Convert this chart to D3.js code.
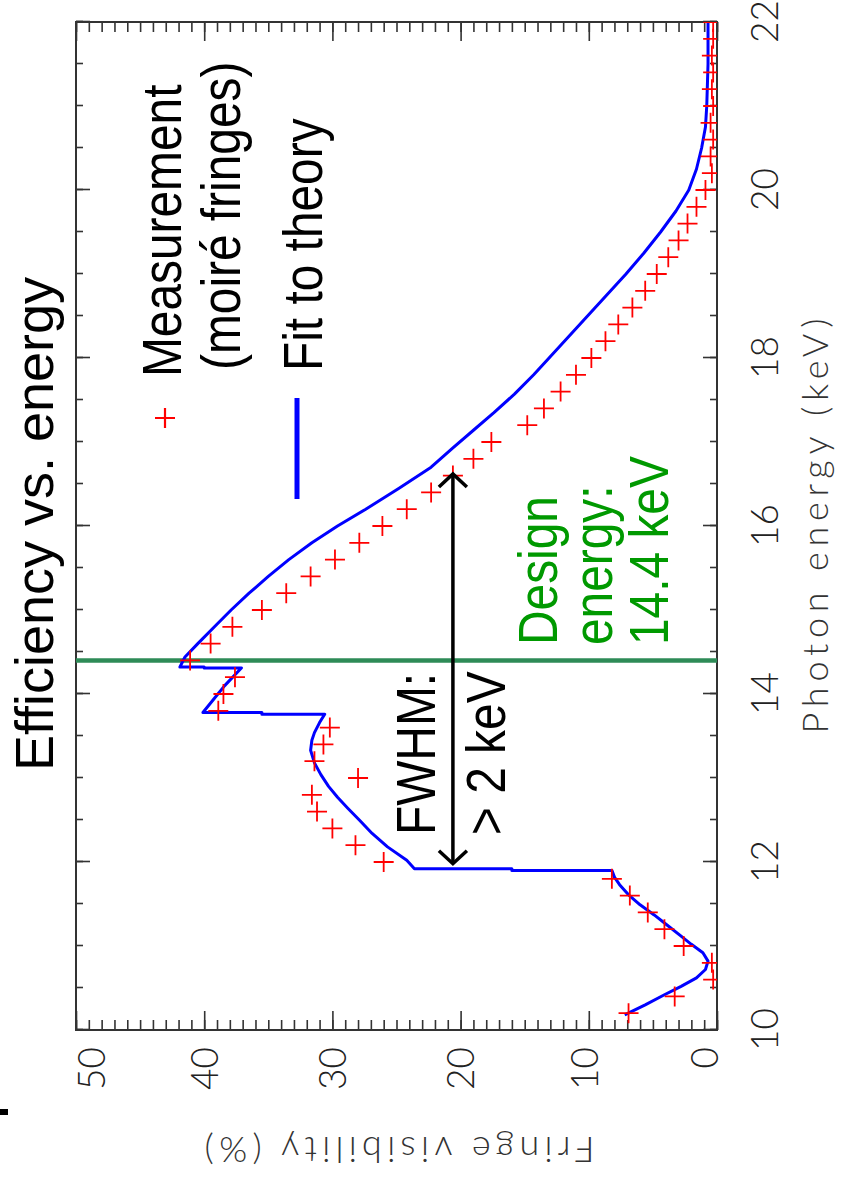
<!DOCTYPE html>
<html><head><meta charset="utf-8">
<script src="https://cdn.jsdelivr.net/npm/d3@7"></script>
<style>html,body{margin:0;padding:0;background:#fff;} svg{display:block;}</style>
</head><body>
<svg id="chart" width="843" height="1179"></svg>
<script>
// ---- data ----
const measEnergy = [10.2,10.4,10.6,10.8,11.0,11.2,11.4,11.6,11.8,12.0,12.2,12.4,12.6,12.8,13.0,13.2,13.4,13.6,13.8,14.0,14.2,14.4,14.6,14.8,15.0,15.2,15.4,15.6,15.8,16.0,16.2,16.4,16.6,16.8,17.0,17.2,17.4,17.6,17.8,18.0,18.2,18.4,18.6,18.8,19.0,19.2,19.4,19.6,19.8,20.0,20.2,20.4,20.6,20.8,21.0,21.2,21.4,21.6,21.8,22.0];
const measVis    = [6.9,3.3,0.3,0.4,2.6,4.1,5.4,6.8,8.2,26.0,28.2,30.0,31.2,31.6,28.0,31.4,30.7,30.2,38.9,38.5,37.6,41.1,39.5,37.8,35.5,33.6,31.7,29.8,27.9,26.1,24.2,22.3,20.6,19.0,17.6,14.8,13.5,12.2,11.0,9.8,8.7,7.7,6.6,5.6,4.7,3.8,3.0,2.3,1.6,0.9,0.4,0.5,0.3,0.5,0.3,0.4,0.3,0.4,0.3,0.3];
const fitEnergy = [10.18,10.3,10.42,10.52,10.62,10.72,10.82,10.92,11.02,11.13,11.25,11.37,11.49,11.61,11.73,11.82,11.9,11.9,11.92,11.92,12.02,12.18,12.34,12.5,12.64,12.77,12.9,13.04,13.18,13.33,13.45,13.54,13.66,13.76,13.76,13.78,13.78,13.95,14.1,14.31,14.31,14.32,14.32,14.44,14.6,14.8,15.0,15.2,15.4,15.6,15.8,16.0,16.2,16.45,16.7,16.93,17.14,17.35,17.57,17.8,18.0,18.25,18.5,18.75,19.0,19.25,19.5,19.75,20.0,20.25,20.5,20.75,21.0,21.5,22.0];
const fitVis    = [7.2,5.6,4.1,2.8,1.6,0.9,0.7,1.1,2.0,2.9,3.9,4.9,6.0,6.9,7.6,8.0,8.2,16.0,16.0,23.6,24.2,25.7,26.9,27.9,28.8,29.6,30.3,30.9,31.4,31.7,31.6,31.4,31.0,30.6,35.5,35.5,40.1,39.2,38.4,37.1,40.0,40.0,41.9,41.5,40.5,39.2,37.9,36.5,35.0,33.4,31.6,29.6,27.4,24.8,22.3,20.6,19.0,17.4,15.8,14.3,13.1,11.6,10.1,8.6,7.1,5.7,4.4,3.2,2.2,1.6,1.2,0.9,0.8,0.7,0.7];
const energyTickLabels = [10,12,14,16,18,20,22];
const energyMinorTicks = [10,10.5,11,11.5,12,12.5,13,13.5,14,14.5,15,15.5,16,16.5,17,17.5,18,18.5,19,19.5,20,20.5,21,21.5,22];
const visTickLabels = [0,10,20,30,40,50];
const designEnergy = 14.4;
const fwhmRange = [11.98, 16.62];
const fwhmLevel = 20.6;
const titleText = "Efficiency vs. energy";
const xTitle = "Photon energy (keV)";
const yTitle = "Fringe visibility (%)";
const legendLabels = ["Measurement", "(moiré fringes)", "Fit to theory"];
const fwhmLines = ["FWHM:", "> 2 keV"];
const designLines = ["Design", "energy:", "14.4 keV"];

// ---- layout ----
const W = 1008, H = 641;
const x = d3.scaleLinear().domain([10, 22]).range([0, W]);
const y = d3.scaleLinear().domain([0, 50]).range([H, 0]);

const svg = d3.select('#chart');
svg.append('rect').attr('x',0).attr('y',1109).attr('width',8).attr('height',6).attr('fill','#000');

// chart is drawn upright then rotated -90deg
const g = svg.append('g').attr('transform', 'translate(76,1030) rotate(-90)');

const defs = svg.append('defs');
defs.append('clipPath').attr('id','plotclip').append('rect').attr('x',0).attr('y',0).attr('width',W).attr('height',H);

const tickFont = "Lato, 'DejaVu Sans', sans-serif";
function styleAxis(sel){
  sel.select('.domain').remove();
  sel.selectAll('line').attr('stroke','#333').attr('stroke-width',1.6);
}
// energy axis (bottom -> screen right), minor + major, mirrored on top
g.append('g').attr('transform',`translate(0,${H})`)
  .call(d3.axisBottom(x).tickValues(energyMinorTicks).tickSize(-7).tickFormat(''))
  .call(styleAxis);
g.append('g').call(d3.axisTop(x).tickValues(energyMinorTicks).tickSize(-7).tickFormat('')).call(styleAxis);
const xMaj = g.append('g').attr('transform',`translate(0,${H})`)
  .call(d3.axisBottom(x).tickValues(energyTickLabels).tickSize(-14).tickFormat(d3.format('d')))
  .call(styleAxis);
xMaj.selectAll('text').attr('y',48).attr('dy','0.36em')
  .attr('font-family',tickFont).attr('font-weight',300).attr('font-size',37).attr('fill','#222');
g.append('g').call(d3.axisTop(x).tickValues(energyTickLabels).tickSize(-14).tickFormat('')).call(styleAxis);

// visibility axis (left -> screen bottom), minor + major, mirrored on right
g.append('g').call(d3.axisLeft(y).tickValues(d3.range(0, 51, 1)).tickSize(-10).tickFormat('')).call(styleAxis);
g.append('g').attr('transform',`translate(${W},0)`)
  .call(d3.axisRight(y).tickValues(d3.range(0, 51, 1)).tickSize(-10).tickFormat('')).call(styleAxis);
const yMaj = g.append('g')
  .call(d3.axisLeft(y).tickValues(visTickLabels).tickSize(-19).tickPadding(17).tickFormat(d3.format('d')))
  .call(styleAxis);
yMaj.selectAll('text').attr('dy','0.36em')
  .attr('font-family',tickFont).attr('font-weight',300).attr('font-size',37).attr('fill','#222')
  .attr('transform', d => d === 50 ? 'translate(0,15)' : d === 0 ? 'translate(0,-13)' : d === 10 ? 'translate(0,-5)' : null);
g.append('g').attr('transform',`translate(${W},0)`)
  .call(d3.axisRight(y).tickValues(visTickLabels).tickSize(-19).tickFormat('')).call(styleAxis);

// frame
g.append('rect').attr('x',0).attr('y',0).attr('width',W).attr('height',H)
  .attr('fill','none').attr('stroke','#333').attr('stroke-width',2);

// axis titles
g.append('text').attr('x', W/2).attr('y', H + 98).attr('dy','0.36em')
  .attr('text-anchor','middle').attr('font-family',tickFont).attr('font-weight',300)
  .attr('font-size',36).attr('fill','#333').attr('textLength',415).attr('lengthAdjust','spacing')
  .text(xTitle);
g.append('text').attr('x', -120).attr('y', H/2 + 3).attr('dy','0.36em')
  .attr('text-anchor','middle').attr('font-family',tickFont).attr('font-weight',300)
  .attr('font-size',36).attr('fill','#333').attr('textLength',390).attr('lengthAdjust','spacing')
  .attr('transform', `rotate(-90,-120,${H/2+3})`)
  .text(yTitle);

// plot contents
const plot = g.append('g').attr('clip-path','url(#plotclip)');

// design energy line
plot.append('line').attr('x1', x(designEnergy)).attr('x2', x(designEnergy))
  .attr('y1', 0).attr('y2', H).attr('stroke','#2e8b57').attr('stroke-width',4.5);

const fitData = fitEnergy.map((e,i) => [e, fitVis[i]]);
plot.append('path').datum(fitData)
  .attr('d', d3.line().x(d => x(d[0])).y(d => y(d[1])))
  .attr('fill','none').attr('stroke','#0000ff').attr('stroke-width',3).attr('stroke-linejoin','round');

const plusType = { draw(ctx, size){ const r = Math.sqrt(size)/2; ctx.moveTo(-r,0); ctx.lineTo(r,0); ctx.moveTo(0,-r); ctx.lineTo(0,r); } };
const plusSym = d3.symbol().type(plusType).size(400);
const measData = measEnergy.map((e,i) => [e, measVis[i]]);
plot.selectAll('path.meas').data(measData).join('path').attr('class','meas')
  .attr('transform', d => `translate(${x(d[0])},${y(d[1])})`)
  .attr('d', plusSym).attr('fill','none').attr('stroke','#ff0000').attr('stroke-width',1.8);

// FWHM arrow
const ax1 = x(fwhmRange[0]), ax2 = x(fwhmRange[1]), ay = y(fwhmLevel);
g.append('line').attr('x1',ax1).attr('x2',ax2).attr('y1',ay).attr('y2',ay)
  .attr('stroke','#000').attr('stroke-width',3.5);
const head = d3.line();
g.append('path').attr('d', head([[ax2-13, ay-14],[ax2, ay],[ax2-13, ay+14]]))
  .attr('fill','none').attr('stroke','#000').attr('stroke-width',3.5).attr('stroke-linejoin','miter');
g.append('path').attr('d', head([[ax1+13, ay-14],[ax1, ay],[ax1+13, ay+14]]))
  .attr('fill','none').attr('stroke','#000').attr('stroke-width',3.5).attr('stroke-linejoin','miter');

// text helper (horizontal compression k along reading direction)
const sansFont = "'Liberation Sans', Arial, Helvetica, sans-serif";
function label(parent, lx, ly, str, size, color, k, anchor){
  parent.append('text').attr('transform', `translate(${lx},${ly}) scale(${k},1)`)
    .attr('font-family', sansFont).attr('font-size', size).attr('fill', color)
    .attr('text-anchor', anchor || 'start').text(str);
}

// title
label(g, 506, -23, titleText, 54, '#000', 1, 'middle');

// legend
g.append('path').attr('transform', `translate(612,89)`).attr('d', plusSym)
  .attr('fill','none').attr('stroke','#ff0000').attr('stroke-width',2.2);
g.append('line').attr('x1',531).attr('x2',632).attr('y1',221).attr('y2',221)
  .attr('stroke','#0000ff').attr('stroke-width',5);
label(g, 653, 105, legendLabels[0], 55, '#000', 0.87);
label(g, 660, 164, legendLabels[1], 55, '#000', 0.87);
label(g, 659, 246, legendLabels[2], 55, '#000', 0.87);

// FWHM text
label(g, 195, 359, fwhmLines[0], 55, '#000', 0.87);
label(g, 195, 429, fwhmLines[1], 55, '#000', 0.87);

// design energy text
label(g, 385, 481, designLines[0], 55, '#009900', 0.87);
label(g, 385, 536, designLines[1], 55, '#009900', 0.87);
label(g, 385, 592, designLines[2], 55, '#009900', 0.87);
</script>
</body></html>
